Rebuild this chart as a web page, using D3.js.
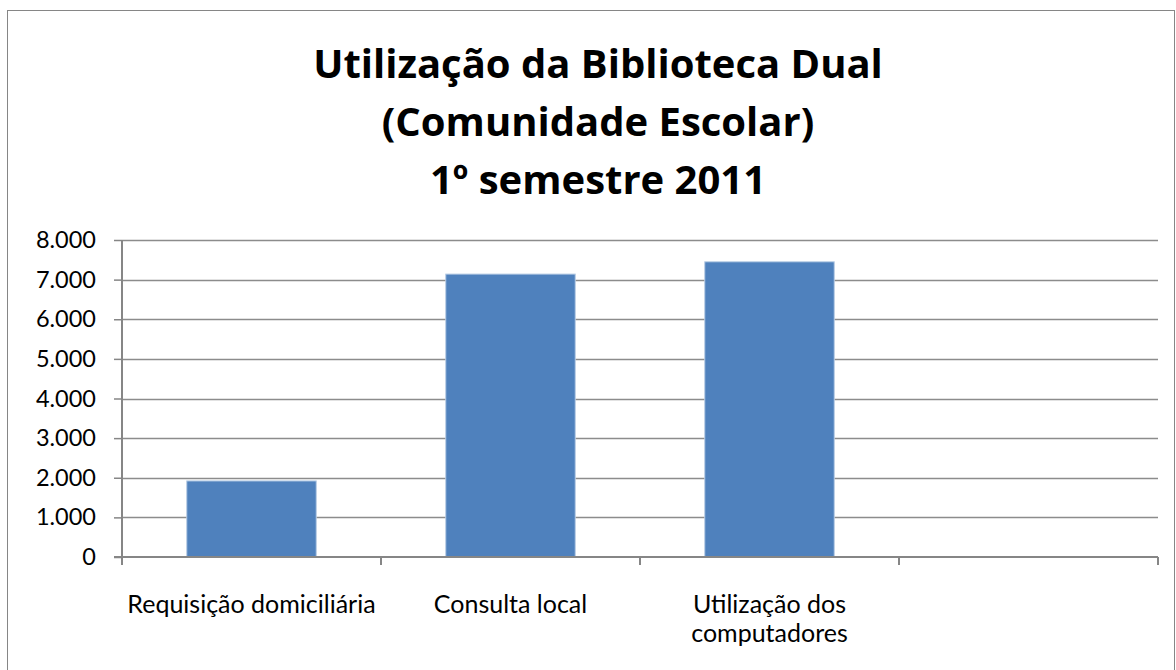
<!doctype html>
<html lang="pt">
  <head>
    <meta charset="utf-8">
    <title>Utilização da Biblioteca Dual</title>
    <style>
      body { margin: 0; background: #fff; }
      text { font-family: Lato, "Open Sans", sans-serif; fill: #000; }
      .title { font-family: "Open Sans", Lato, sans-serif; font-weight: bold; font-size: 40px; }
      .cat { font-size: 25px; }
    </style>
  </head>
  <body>
    <div id="chart"></div>

    <script src="https://d3js.org/d3.v7.min.js"></script>
    <script type="text/javascript">
      const w = 1176;
      const h = 670;

      // data
      const titleLines = ["Utilização da Biblioteca Dual", "(Comunidade Escolar)", "1º semestre 2011"];
      const categories = ["Requisição domiciliária", "Consulta local", "Utilização dos computadores", ""];
      const values = [1920, 7140, 7450, null];
      const yTicks = [0, 1000, 2000, 3000, 4000, 5000, 6000, 7000, 8000];

      const plotLeft = 122, plotRight = 1158, plotTop = 240, plotBottom = 557;

      const svg = d3.select('#chart')
                    .append('svg')
                    .attr("width", w)
                    .attr("height", h);

      // outer frame
      svg.append('rect')
        .attr('x', 7.5)
        .attr('y', 10.5)
        .attr('width', 1167)
        .attr('height', 670)
        .attr('fill', 'white')
        .attr('stroke', '#868686')
        .attr('stroke-width', 1);

      // title
      svg.append('text')
        .attr('class', 'title')
        .attr('text-anchor', 'middle')
        .selectAll('tspan')
        .data(titleLines)
        .enter()
        .append('tspan')
        .attr('x', 598)
        .attr('y', (d, i) => 78 + i * 58)
        .text(d => d);

      const x = d3.scaleBand()
                  .domain(categories)
                  .range([plotLeft, plotRight])
                  .paddingInner(0.5)
                  .paddingOuter(0.25);

      const y = d3.scaleLinear()
                  .domain([0, 8000])
                  .range([plotBottom, plotTop]);

      const pt = d3.formatLocale({decimal: ",", thousands: ".", grouping: [3], currency: ["", "€"]});
      const fmt = pt.format(",");

      // gridlines
      svg.selectAll('.grid')
         .data(yTicks.slice(1))
         .enter()
         .append('line')
         .attr('class', 'grid')
         .attr('x1', plotLeft)
         .attr('x2', plotRight)
         .attr('y1', d => Math.round(y(d)) + 0.5)
         .attr('y2', d => Math.round(y(d)) + 0.5)
         .attr('stroke', '#8c8c8c')
         .attr('stroke-width', 1.3);

      // y axis
      const yAxis = svg.append('g')
        .attr('transform', `translate(${plotLeft},0)`)
        .call(d3.axisLeft(y).tickValues(yTicks).tickFormat(fmt).tickSize(8).tickPadding(18));
      yAxis.attr('font-family', null).attr('font-size', null);
      yAxis.selectAll('line').attr('stroke', '#868686').attr('stroke-width', 1.5);
      yAxis.select('.domain').attr('stroke', '#868686').attr('stroke-width', 2).attr('d', `M0,${plotTop}V${plotBottom + 1}`);
      yAxis.selectAll('text').attr('fill', '#000').style('font-size', '23.5px');

      // bars
      svg.selectAll('.bar')
         .data(categories.filter((c, i) => values[i] != null))
         .enter()
         .append('rect')
         .attr('class', 'bar')
         .attr('x', d => x(d))
         .attr('width', x.bandwidth())
         .attr('y', d => y(values[categories.indexOf(d)]))
         .attr('height', d => plotBottom - y(values[categories.indexOf(d)]))
         .attr('fill', '#4f81bd')
         .attr('stroke', '#b9cde5')
         .attr('stroke-width', 1);

      // x axis line + boundary ticks
      const step = x.step();
      const bounds = categories.map(c => x(c) - step * 0.25).concat([plotRight]);
      svg.append('line')
        .attr('x1', plotLeft - 8)
        .attr('x2', plotRight)
        .attr('y1', plotBottom)
        .attr('y2', plotBottom)
        .attr('stroke', '#868686')
        .attr('stroke-width', 2);
      svg.selectAll('.xtick')
         .data(bounds)
         .enter()
         .append('line')
         .attr('class', 'xtick')
         .attr('x1', d => d)
         .attr('x2', d => d)
         .attr('y1', plotBottom)
         .attr('y2', plotBottom + 8)
         .attr('stroke', '#868686')
         .attr('stroke-width', 2);

      // category labels, wrapped where the reference wraps them
      const wrapLabel = (label) => {
        if (label === "Utilização dos computadores") return ["Utilização dos", "computadores"];
        return [label];
      };
      const cat = svg.selectAll('.cat')
         .data(categories)
         .enter()
         .append('text')
         .attr('class', 'cat')
         .attr('text-anchor', 'middle');
      cat.selectAll('tspan')
         .data(d => wrapLabel(d).map(t => ({t, c: d})))
         .enter()
         .append('tspan')
         .attr('x', d => x(d.c) + x.bandwidth() / 2)
         .attr('y', (d, i) => 613 + i * 29)
         .text(d => d.t);
    </script>
  </body>
</html>
